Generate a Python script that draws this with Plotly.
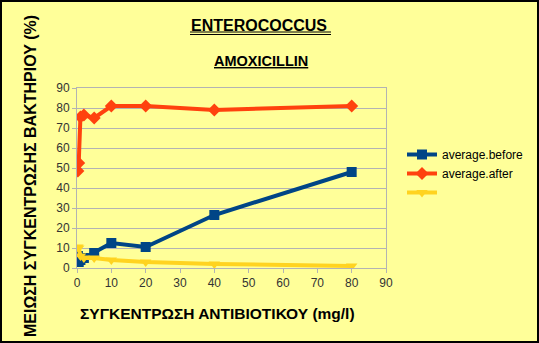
import plotly.graph_objects as go

# Antibiotic concentration (mg/l)
conc = [0.25, 0.5, 1, 2, 5, 10, 20, 40, 80]
# Reduction of bacterial concentration (%)
avg_before = [6, 3, 4, 5, 7.5, 12.5, 10.5, 26.5, 48]
avg_after = [48.5, 52.5, 75.5, 76.5, 75, 81, 81, 79, 81]
third = [10.5, 10, 6, 5, 5, 4, 3, 2, 1]

x_ticks = [0, 10, 20, 30, 40, 50, 60, 70, 80, 90]
y_ticks = [0, 10, 20, 30, 40, 50, 60, 70, 80, 90]

W, H = 539, 343
L, R, T, B = 77, 10, 88, 75
PW, PH = W - L - R, H - T - B
PLOT_RIGHT = 386  # right edge of the plotting area, in pixels
BG = "#ffff99"
FONT = "Liberation Sans, Arial, sans-serif"


def px(x):
    return (x - L) / PW


def py(y):
    return (H - B - y) / PH


fig = go.Figure()
fig.add_trace(go.Scatter(
    x=conc, y=avg_before, name="average.before", mode="lines+markers",
    line=dict(color="#004586", width=4),
    marker=dict(symbol="square", size=10, color="#004586"),
))
fig.add_trace(go.Scatter(
    x=conc, y=avg_after, name="average.after", mode="lines+markers",
    line=dict(color="#ff420e", width=4),
    marker=dict(symbol="diamond", size=10, color="#ff420e"),
))
fig.add_trace(go.Scatter(
    x=conc, y=third, name=" ", mode="lines+markers",
    line=dict(color="#ffd320", width=4),
    marker=dict(symbol="triangle-down", size=10, color="#ffd320"),
))

axis_common = dict(
    showline=True, linecolor="#b3b3b3", linewidth=1, mirror=True,
    ticks="outside", ticklen=4, tickcolor="#b3b3b3",
    tickfont=dict(family=FONT, size=12, color="#333333"),
    zeroline=False,
)

fig.update_layout(
    width=W, height=H,
    margin=dict(l=L, r=R, t=T, b=B, autoexpand=False),
    paper_bgcolor=BG, plot_bgcolor=BG,
    font=dict(family=FONT, color="#000000"),
    showlegend=True,
    legend=dict(
        x=px(402), y=py(140), xanchor="left", yanchor="top",
        bgcolor="rgba(0,0,0,0)", font=dict(family=FONT, size=12, color="#000000"),
        itemwidth=30, tracegroupgap=0,
    ),
    xaxis=dict(range=[0, 90], tickvals=x_ticks, showgrid=False,
               domain=[0, px(PLOT_RIGHT)], **axis_common),
    yaxis=dict(range=[0, 90], tickvals=y_ticks, showgrid=True,
               gridcolor="#b3b3b3", gridwidth=1, **axis_common),
)

annotations = [
    dict(text="<b>ENTEROCOCCUS </b>", x=px(261), y=py(26), size=16),
    dict(text="<b><u>AMOXICILLIN</u></b>", x=px(261), y=py(61), size=14.5),
    dict(text="<b>ΣΥΓΚΕΝΤΡΩΣΗ ΑΝΤΙΒΙΟΤΙΚΟΥ (mg/l)</b>", x=px(217), y=py(313), size=15.5),
]
for a in annotations:
    fig.add_annotation(
        text=a["text"], x=a["x"], y=a["y"], xref="paper", yref="paper",
        xanchor="center", yanchor="middle", showarrow=False,
        font=dict(family=FONT, size=a["size"], color="#000000"),
    )
fig.add_annotation(
    text="<b>ΜΕΙΩΣΗ ΣΥΓΚΕΝΤΡΩΣΗΣ ΒΑΚΤΗΡΙΟΥ (%)</b>", x=px(30), y=py(176),
    xref="paper", yref="paper", xanchor="center", yanchor="middle",
    showarrow=False, textangle=-90,
    font=dict(family=FONT, size=16, color="#000000"),
)

# double underline of the main title
for yy in (32, 34.5):
    fig.add_shape(type="line", xref="paper", yref="paper",
                  x0=px(190), x1=px(331), y0=py(yy), y1=py(yy),
                  line=dict(color="#000000", width=1))

# outer frame
fig.add_shape(type="rect", xref="paper", yref="paper",
              x0=px(1), x1=px(538), y0=py(1), y1=py(342),
              line=dict(color="#000000", width=2), layer="above")

fig.write_html("out.html")
